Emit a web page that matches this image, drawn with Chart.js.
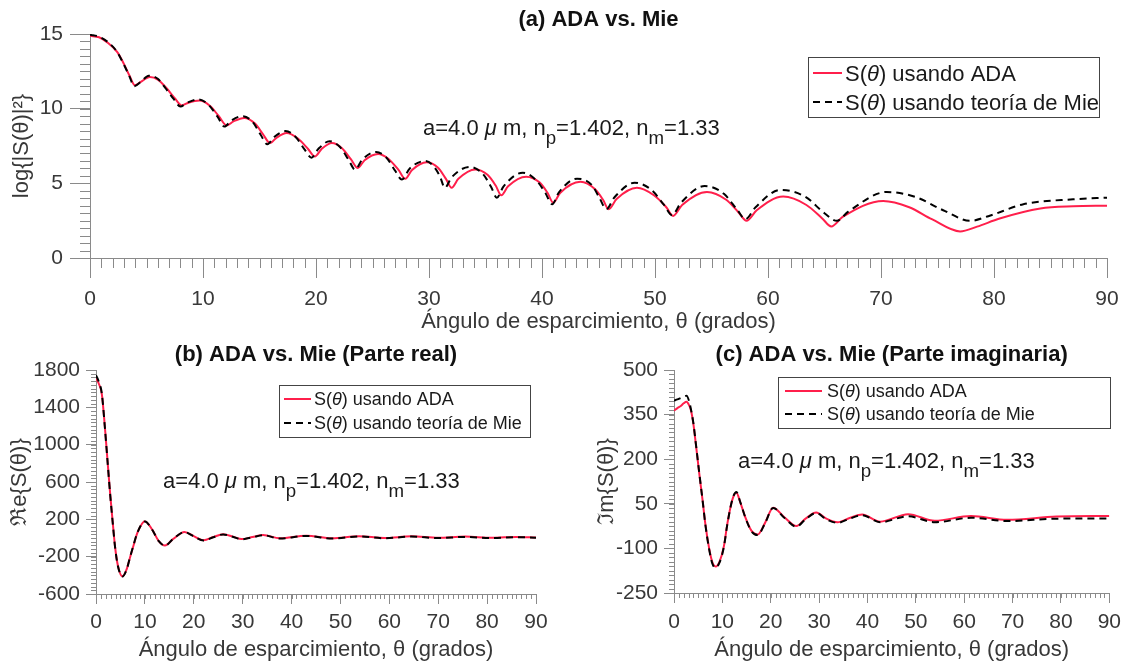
<!DOCTYPE html>
<html>
<head>
<meta charset="utf-8">
<script src="https://cdn.jsdelivr.net/npm/chart.js@4.4.1/dist/chart.umd.min.js"></script>
<style>
  body { margin: 0; background: #fff; }
  .panel { position: absolute; }
</style>
</head>
<body>
<div class="panel" style="left:0;top:0;width:1128px;height:335px"><canvas id="chartA"></canvas></div>
<div class="panel" style="left:0;top:335px;width:564px;height:331px"><canvas id="chartB"></canvas></div>
<div class="panel" style="left:564px;top:335px;width:564px;height:331px"><canvas id="chartC"></canvas></div>
<script>
// ---- data ----
const xTicks = [0, 10, 20, 30, 40, 50, 60, 70, 80, 90];

// (a) log{|S|^2}
const yTicksA = [0, 5, 10, 15];
const angAdaA = [0, 0.8, 1.6, 2.4, 3.0, 3.5, 3.98, 4.5, 5.3, 6.0, 6.8, 7.5, 8.11, 8.7, 9.7, 10.6, 11.4, 12.1, 12.7, 13.65, 14.6, 15.3, 15.93, 16.5, 17.4, 18.4, 19.3, 19.9, 20.5, 21.4, 22.3, 23.1, 23.7, 24.3, 25.5, 26.4, 27.3, 27.9, 28.5, 29.8, 30.8, 31.5, 32.0, 32.6, 34.1, 35.2, 35.9, 36.4, 37.0, 38.6, 39.8, 40.5, 41.0, 41.6, 43.4, 44.7, 45.4, 45.9, 46.6, 48.4, 49.9, 51.0, 51.6, 52.4, 54.6, 56.3, 57.4, 58.1, 59.0, 61.35, 63.4, 64.8, 65.6, 66.6, 70.2, 72.5, 74.5, 77.0, 78.5, 80.5, 84.1, 87.0, 90];
const logAdaA = [14.88, 14.78, 14.4, 13.8, 13.0, 12.2, 11.56, 11.8, 12.12, 11.95, 11.35, 10.7, 10.22, 10.4, 10.54, 10.2, 9.5, 8.88, 9.15, 9.38, 9.0, 8.3, 7.7, 8.05, 8.37, 8.0, 7.3, 6.8, 7.3, 7.7, 7.35, 6.6, 6.03, 6.55, 6.97, 6.65, 5.9, 5.31, 5.9, 6.42, 6.05, 5.3, 4.7, 5.3, 5.93, 5.55, 4.85, 4.2, 4.8, 5.44, 5.05, 4.35, 3.7, 4.35, 5.1, 4.6, 3.9, 3.27, 3.95, 4.7, 4.2, 3.4, 2.82, 3.55, 4.42, 3.9, 3.05, 2.49, 3.2, 4.11, 3.55, 2.65, 2.11, 2.75, 3.82, 3.4, 2.6, 1.78, 2.1, 2.64, 3.31, 3.46, 3.5];
const angMieA = [0, 0.8, 1.6, 2.4, 3.0, 3.5, 3.9, 4.5, 5.2, 6.0, 6.7, 7.4, 8.0, 8.6, 9.6, 10.5, 11.3, 11.9, 12.5, 13.5, 14.4, 15.1, 15.7, 16.3, 17.3, 18.2, 19.0, 19.6, 20.2, 21.2, 22.1, 22.9, 23.45, 24.1, 25.3, 26.2, 27.0, 27.6, 28.3, 29.7, 30.6, 31.0, 31.4, 32.0, 33.6, 34.8, 35.5, 36.0, 36.6, 38.3, 39.5, 40.3, 40.9, 41.5, 43.1, 44.4, 45.1, 45.7, 46.4, 48.2, 49.7, 50.8, 51.5, 52.3, 54.4, 56.1, 57.3, 58.0, 58.9, 61.1, 63.3, 65.0, 66.1, 67.1, 70.5, 73.0, 75.5, 77.9, 79.5, 82.6, 87.0, 90];
const logMieA = [14.95, 14.82, 14.45, 13.8, 12.95, 12.15, 11.5, 11.8, 12.2, 12.0, 11.35, 10.65, 10.15, 10.4, 10.62, 10.25, 9.45, 8.8, 9.2, 9.5, 9.1, 8.25, 7.62, 8.1, 8.5, 8.1, 7.25, 6.72, 7.3, 7.82, 7.45, 6.55, 5.92, 6.6, 7.1, 6.75, 5.85, 5.25, 6.0, 6.5, 5.95, 5.4, 4.7, 5.4, 6.1, 5.6, 4.75, 4.04, 4.8, 5.71, 5.2, 4.35, 3.6, 4.4, 5.31, 4.9, 4.0, 3.27, 4.05, 5.04, 4.55, 3.55, 2.87, 3.7, 4.82, 4.3, 3.2, 2.6, 3.4, 4.56, 4.1, 3.0, 2.49, 3.1, 4.42, 4.1, 3.2, 2.49, 2.8, 3.6, 3.93, 4.04];

// (b) real part
const yTicksB = [-600, -200, 200, 600, 1000, 1400, 1800];
const angB = [0, 0.6, 1.2, 1.8, 2.4, 2.9, 3.4, 3.9, 4.5, 5.4, 6.3, 7.0, 7.6, 8.5, 10.0, 11.5, 12.8, 14.1, 15.8, 18.1, 20.0, 22.0, 24.0, 26.0, 28.0, 29.8, 32.0, 34.2, 37.6, 43.0, 48.3, 53.8, 59.0, 64.5, 70.0, 75.5, 81.0, 86.0, 90];
const reAdaB = [1710, 1650, 1540, 1200, 800, 470, 180, -94, -300, -410, -330, -200, -94, 60, 180, 90, -30, -80, -10, 65, 20, -25, 10, 40, 15, -12, 10, 32, -3, 25, -3, 20, 0, 18, 2, 15, 2, 12, 5];
const reMieB = [1745, 1670, 1545, 1195, 795, 465, 175, -98, -305, -412, -332, -198, -90, 62, 178, 88, -32, -82, -8, 63, 18, -27, 8, 38, 13, -14, 8, 30, -6, 22, -6, 17, -3, 15, -1, 12, -1, 9, 2];

// (c) imaginary part
const yTicksC = [-250, -100, 50, 200, 350, 500];
const angC = [0, 0.7, 1.4, 2.0, 2.6, 3.1, 3.5, 4.0, 4.5, 5.2, 5.9, 6.5, 7.2, 7.9, 8.6, 9.4, 10.3, 11.0, 11.7, 12.3, 12.9, 13.7, 14.7, 16.0, 17.3, 18.8, 20.5, 22.8, 25.3, 27.2, 29.4, 31.5, 33.8, 36.3, 38.9, 42.6, 48.4, 53.9, 61.4, 68.9, 79.1, 90];
const imAdaC = [363, 372, 379, 388, 393, 382, 365, 320, 253, 155, 63, -20, -94, -145, -161, -145, -94, -20, 40, 75, 87, 55, 7, -40, -53, -15, 37, 5, -25, 0, 21, 0, -12, 2, 14, -10, 15, -7, 9, -4, 7, 9];
const imMieC = [397, 401, 406, 410, 413, 396, 368, 322, 255, 157, 63, -22, -97, -150, -165, -148, -96, -22, 40, 77, 90, 56, 6, -42, -55, -16, 36, 3, -27, -2, 19, -2, -14, 0, 12, -12, 8, -12, 3, -8, 0, 1];

// ---- styling ----
const FONT = "'Liberation Sans', Arial, sans-serif";
const TXT = '#383838';
const AXIS = '#8a8a8a';
const RED = '#ff1f4b';

function pts(xs, ys) {
    return xs.map((x, i) => ({ x: x, y: ys[i] }));
}

// text with italic / subscript pieces
function drawRich(ctx, segs, x, y, size, color) {
    let cx = x;
    ctx.fillStyle = color;
    ctx.textAlign = 'left';
    ctx.textBaseline = 'alphabetic';
    for (const [t, st] of segs) {
        const sz = st === 's' ? size * 0.85 : size;
        ctx.font = (st === 'i' ? 'italic ' : '') + sz + 'px ' + FONT;
        ctx.fillText(t, cx, st === 's' ? y + size * 0.4 : y);
        cx += ctx.measureText(t).width;
    }
}

const noteSegs = [['a=4.0 ', ''], ['\u03bc', 'i'], [' m, n', ''], ['p', 's'], ['=1.402, n', ''], ['m', 's'], ['=1.33', '']];
const adaSegs = [['S(', ''], ['\u03b8', 'i'], [') usando ADA', '']];
const mieSegs = [['S(', ''], ['\u03b8', 'i'], [') usando teor\u00eda de Mie', '']];

// minor ticks, title, annotation and legend box
const decor = {
    id: 'decor',
    afterDraw(chart, args, o) {
        const ctx = chart.ctx, a = chart.chartArea;
        const sx = chart.scales.x, sy = chart.scales.y;
        ctx.save();
        ctx.strokeStyle = AXIS;
        ctx.lineWidth = 1;
        ctx.beginPath();
        for (let v = sx.min; v <= sx.max + 1e-9; v += o.xMinor) {
            const p = Math.round(sx.getPixelForValue(v)) + 0.5;
            ctx.moveTo(p, a.bottom);
            ctx.lineTo(p, a.bottom + o.minorLen);
        }
        for (let v = sy.min; v <= sy.max + 1e-9; v += o.yMinor) {
            const p = Math.round(sy.getPixelForValue(v)) + 0.5;
            ctx.moveTo(a.left - o.minorLen, p);
            ctx.lineTo(a.left, p);
        }
        ctx.stroke();

        ctx.fillStyle = '#111';
        ctx.font = 'bold 22px ' + FONT;
        ctx.textAlign = 'center';
        ctx.textBaseline = 'middle';
        ctx.fillText(o.title, (a.left + a.right) / 2, o.titleY);

        drawRich(ctx, noteSegs, o.noteX, o.noteY, 22, '#1a1a1a');

        const b = o.box;
        ctx.fillStyle = '#fff';
        ctx.fillRect(b[0], b[1], b[2] - b[0], b[3] - b[1]);
        ctx.strokeStyle = '#444';
        ctx.strokeRect(b[0] + 0.5, b[1] + 0.5, b[2] - b[0], b[3] - b[1]);
        ctx.lineWidth = 2;
        ctx.strokeStyle = RED;
        ctx.beginPath();
        ctx.moveTo(o.lineX[0], o.rows[0]);
        ctx.lineTo(o.lineX[1], o.rows[0]);
        ctx.stroke();
        ctx.strokeStyle = '#000';
        ctx.setLineDash([7, 5]);
        ctx.beginPath();
        ctx.moveTo(o.lineX[0], o.rows[1]);
        ctx.lineTo(o.lineX[1], o.rows[1]);
        ctx.stroke();
        ctx.setLineDash([]);
        drawRich(ctx, adaSegs, o.textX, o.rows[0] + o.size * 0.36, o.size, '#1a1a1a');
        drawRich(ctx, mieSegs, o.textX, o.rows[1] + o.size * 0.36, o.size, '#1a1a1a');
        ctx.restore();
    }
};

function makeChart(id, c) {
    const tickFont = { family: FONT, size: 21 };
    const titleFont = { family: FONT, size: 22 };
    return new Chart(document.getElementById(id), {
        type: 'line',
        data: {
            datasets: [{
                label: 'S(\u03b8) usando ADA',
                data: c.ada,
                borderColor: RED,
                borderWidth: 2,
                pointRadius: 0,
                cubicInterpolationMode: 'monotone',
                order: 1
            }, {
                label: 'S(\u03b8) usando teor\u00eda de Mie',
                data: c.mie,
                borderColor: '#000',
                borderWidth: 2,
                borderDash: [7, 5],
                pointRadius: 0,
                cubicInterpolationMode: 'monotone',
                order: 0
            }]
        },
        options: {
            responsive: true,
            maintainAspectRatio: false,
            animation: false,
            layout: { padding: c.pad },
            plugins: { legend: { display: false }, tooltip: { enabled: false }, decor: c.decor },
            scales: {
                x: {
                    type: 'linear', min: 0, max: 90,
                    afterFit: s => { s.height = c.xH; },
                    afterBuildTicks: s => { s.ticks = xTicks.map(v => ({ value: v })); },
                    ticks: { color: TXT, font: tickFont, padding: c.xPad, maxRotation: 0, autoSkip: false },
                    grid: { drawOnChartArea: false, tickLength: c.major, color: AXIS },
                    border: { color: AXIS },
                    title: {
                        display: true, text: '\u00c1ngulo de esparcimiento, \u03b8 (grados)',
                        color: TXT, font: titleFont, padding: { top: 0, bottom: c.xTitlePad }
                    }
                },
                y: {
                    type: 'linear', min: c.yTicks[0], max: c.yTicks[c.yTicks.length - 1],
                    afterFit: s => { s.width = c.yW; },
                    afterBuildTicks: s => { s.ticks = c.yTicks.map(v => ({ value: v })); },
                    ticks: { color: TXT, font: tickFont, padding: c.yPad, callback: v => String(v) },
                    grid: { drawOnChartArea: false, tickLength: c.major, color: AXIS },
                    border: { color: AXIS },
                    title: {
                        display: true, text: c.yTitle,
                        color: TXT, font: titleFont, padding: { top: c.yTitlePad, bottom: 0 }
                    }
                }
            }
        },
        plugins: [decor]
    });
}

makeChart('chartA', {
    ada: pts(angAdaA, logAdaA), mie: pts(angMieA, logMieA), yTicks: yTicksA,
    yTitle: 'log{|S(\u03b8)|\u00b2}',
    pad: { left: 0, right: 21, top: 34, bottom: 0 },
    yW: 90, xH: 77, major: 20, xPad: 9, yPad: 7, xTitlePad: 0, yTitlePad: 9,
    decor: {
        xMinor: 1, yMinor: 0.5, minorLen: 10,
        title: '(a) ADA vs. Mie', titleY: 20, noteX: 423, noteY: 135,
        box: [808, 57, 1099, 117], lineX: [813, 842], textX: 845, rows: [73, 102], size: 22
    }
});

makeChart('chartB', {
    ada: pts(angB, reAdaB), mie: pts(angB, reMieB), yTicks: yTicksB,
    yTitle: '\u211ce{S(\u03b8)}',
    pad: { left: 0, right: 28, top: 35, bottom: 0 },
    yW: 96, xH: 72, major: 10, xPad: 6, yPad: 6, xTitlePad: 3, yTitlePad: 7,
    decor: {
        xMinor: 1, yMinor: 40, minorLen: 5,
        title: '(b) ADA vs. Mie (Parte real)', titleY: 20, noteX: 163, noteY: 153,
        box: [279, 50, 530, 102], lineX: [284, 311], textX: 314, rows: [64, 88], size: 18
    }
});

makeChart('chartC', {
    ada: pts(angC, imAdaC), mie: pts(angC, imMieC), yTicks: yTicksC,
    yTitle: '\u2111m{S(\u03b8)}',
    pad: { left: 0, right: 14, top: 35, bottom: 0 },
    yW: 110, xH: 73, major: 10, xPad: 7, yPad: 6, xTitlePad: 3, yTitlePad: 30,
    decor: {
        xMinor: 1, yMinor: 15, minorLen: 5,
        title: '(c) ADA vs. Mie (Parte imaginaria)', titleY: 20, noteX: 174, noteY: 133,
        box: [214, 42, 546, 93], lineX: [221, 258], textX: 263, rows: [56, 79], size: 18
    }
});
</script>
</body>
</html>
